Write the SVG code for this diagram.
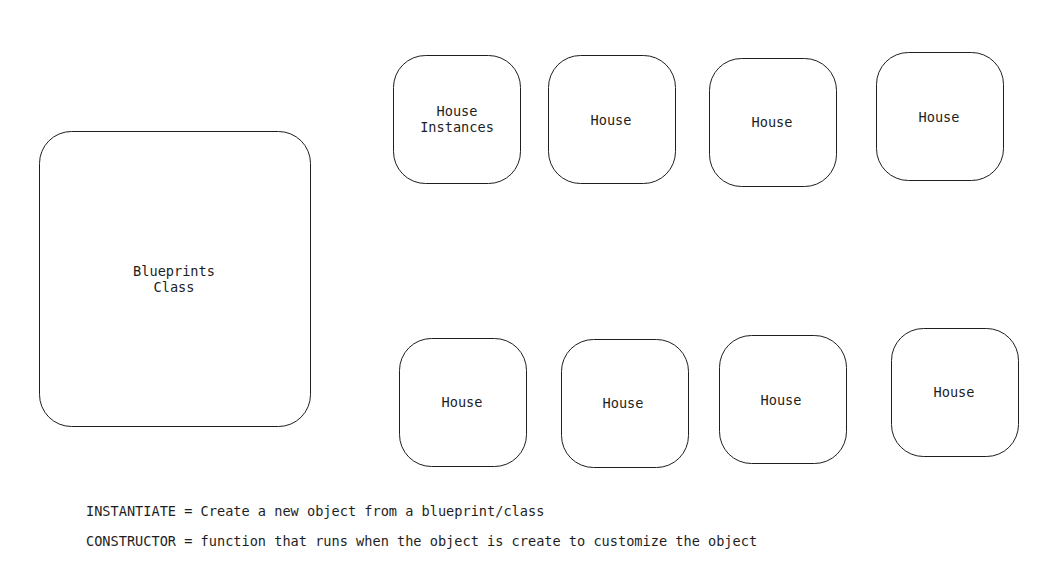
<svg xmlns="http://www.w3.org/2000/svg" width="1049" height="576" viewBox="0 0 1049 576">
<style>
.box{fill:#ffffff;stroke:#1e1e1e;stroke-width:1}
.t{font-family:"DejaVu Sans Mono","Liberation Mono",monospace;font-size:13.6px;fill:#1e1e1e;text-anchor:middle}
.n{font-family:"DejaVu Sans Mono","Liberation Mono",monospace;font-size:13.6px;fill:#1e1e1e}
</style>
<rect width="1049" height="576" fill="#ffffff"/>
<g id="connectors"></g>
<g id="blueprints"><rect class="box" x="39.5" y="131.5" width="271" height="295" rx="32"/><text class="t" x="174" y="276">Blueprints</text><text class="t" x="174" y="292">Class</text></g>
<g id="house-instances"><rect class="box" x="393.5" y="55.5" width="127" height="128" rx="32"/><text class="t" x="457" y="116">House</text><text class="t" x="457" y="132">Instances</text></g>
<g id="house-2"><rect class="box" x="548.5" y="55.5" width="127" height="128" rx="32"/><text class="t" x="611" y="125">House</text></g>
<g id="house-3"><rect class="box" x="709.5" y="58.5" width="127" height="128" rx="32"/><text class="t" x="772" y="127">House</text></g>
<g id="house-4"><rect class="box" x="876.5" y="52.5" width="127" height="128" rx="32"/><text class="t" x="939" y="122">House</text></g>
<g id="house-5"><rect class="box" x="399.5" y="338.5" width="127" height="128" rx="32"/><text class="t" x="462" y="407">House</text></g>
<g id="house-6"><rect class="box" x="561.5" y="339.5" width="127" height="128" rx="32"/><text class="t" x="623" y="408">House</text></g>
<g id="house-7"><rect class="box" x="719.5" y="335.5" width="127" height="128" rx="32"/><text class="t" x="781" y="405">House</text></g>
<g id="house-8"><rect class="box" x="891.5" y="328.5" width="127" height="128" rx="32"/><text class="t" x="954" y="397">House</text></g>
<g id="notes">
<text class="n" x="86" y="516">INSTANTIATE = Create a new object from a blueprint/class</text>
<text class="n" x="86" y="546">CONSTRUCTOR = function that runs when the object is create to customize the object</text>
</g>
</svg>
